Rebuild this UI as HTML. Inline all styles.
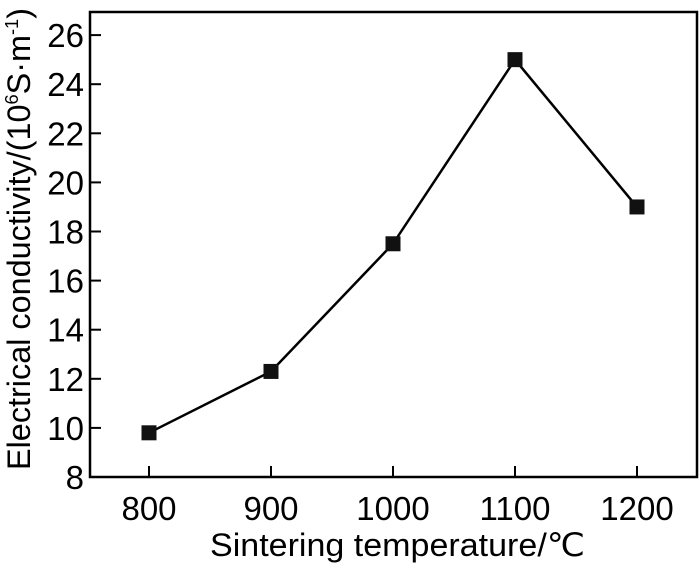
<!DOCTYPE html>
<html><head><meta charset="utf-8"><style>
body{margin:0;background:#fff;}
svg text{font-family:"Liberation Sans",Arial,sans-serif;fill:#000;}
</style></head><body>
<svg id="chart" width="700" height="563">
<rect x="90" y="12" width="607" height="465" fill="none" stroke="#000" stroke-width="2.5"/>
<g id="axes"></g>
<g id="series"></g>
<text x="210" y="556" font-size="32" textLength="375" lengthAdjust="spacingAndGlyphs">Sintering temperature/℃</text>
<text transform="translate(30,470) rotate(-90)" font-size="32" textLength="462" lengthAdjust="spacingAndGlyphs">Electrical conductivity/(10<tspan font-size="18" dy="-12">6</tspan><tspan dy="12">S·m</tspan><tspan font-size="18" dy="-12">-1</tspan><tspan dy="12">)</tspan></text>
</svg>
<script>
const categories=[800,900,1000,1100,1200];
const values=[9.8,12.3,17.5,25.0,19.0];
const yTicks=[8,10,12,14,16,18,20,22,24,26];
const NS='http://www.w3.org/2000/svg';
function xs(v){return 149+(v-800)*1.22;}
function ys(v){return 477-(v-8)*24.55;}
function mk(tag,attrs,parent){const e=document.createElementNS(NS,tag);for(const k in attrs)e.setAttribute(k,attrs[k]);parent.appendChild(e);return e;}
const axes=document.getElementById('axes');
const series=document.getElementById('series');
yTicks.forEach(t=>{
  const l=mk('line',{x1:90,x2:101,y1:ys(t),y2:ys(t),stroke:'#000','stroke-width':2},axes);
  
  
  const tx=mk('text',{x:84,y:ys(t)+12,'font-size':33,'text-anchor':'end'},axes);
  tx.textContent=t;
  
  
});
categories.forEach(c=>{
  const l=mk('line',{x1:xs(c),x2:xs(c),y1:466,y2:477,stroke:'#000','stroke-width':2},axes);
  
  
  const tx=mk('text',{x:xs(c),y:520,'font-size':33,'text-anchor':'middle'},axes);
  tx.textContent=c;
  
  
});
const pts=categories.map((c,i)=>xs(c)+','+ys(values[i])).join(' ');
const pl=mk('polyline',{points:pts,fill:'none',stroke:'#000','stroke-width':2.5},series);


categories.forEach((c,i)=>{
  const r=mk('rect',{x:xs(c)-7.5,y:ys(values[i])-7.5,width:15,height:15,fill:'#111'},series);
  
  
});
</script>
</body></html>
